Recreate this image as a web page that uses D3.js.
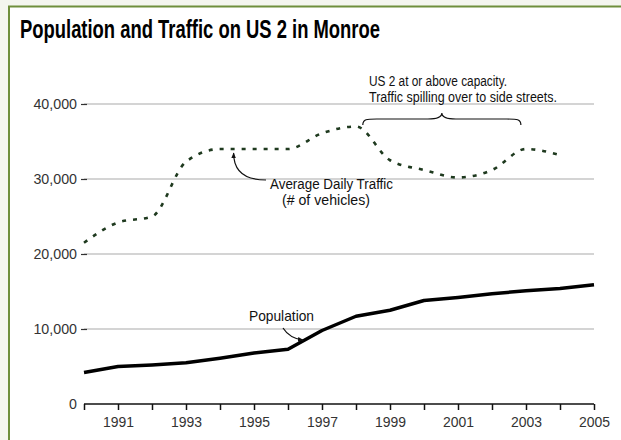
<!DOCTYPE html>
<html>
<head>
<meta charset="utf-8">
<script src="https://cdn.jsdelivr.net/npm/d3@7"></script>
<style>
  html, body { margin: 0; padding: 0; background: #f4f6ef; }
  svg { display: block; }
  text { font-family: "Liberation Sans", Arial, Helvetica, sans-serif; }
</style>
</head>
<body>
<svg id="chart" width="621" height="440"></svg>
<script>
// Years on the x axis
const years = d3.range(1990, 2006);
// Monroe population, 1990–2005
const population = [4200, 5000, 5200, 5500, 6100, 6800, 7300, 9800, 11700, 12500, 13800, 14200, 14700, 15100, 15400, 15900];
// Average daily traffic on US 2 (vehicles), 1990–2004
const trafficYears = d3.range(1990, 2005);
const traffic = [21500, 24200, 25000, 32300, 34000, 34000, 34000, 36100, 37000, 32500, 31200, 30200, 31200, 34000, 33200];
// Axis tick values and labels
const yTicks = [0, 10000, 20000, 30000, 40000];
const xLabelYears = [1991, 1993, 1995, 1997, 1999, 2001, 2003, 2005];

const svg = d3.select("#chart");

// Squeeze a text horizontally to mimic a condensed face
function condense(sel, factor) {
  sel.each(function () {
    const w = this.getComputedTextLength();
    if (w > 0) {
      d3.select(this)
        .attr("textLength", (w * factor).toFixed(1))
        .attr("lengthAdjust", "spacingAndGlyphs");
    }
  });
}
function fitWidth(sel, width) {
  sel.attr("textLength", width).attr("lengthAdjust", "spacingAndGlyphs");
}

// Panel with olive border
svg.append("rect")
  .attr("x", 9).attr("y", 6.5)
  .attr("width", 640).attr("height", 460)
  .attr("fill", "#ffffff")
  .attr("stroke", "#6f8f3c")
  .attr("stroke-width", 2);

svg.append("text")
  .attr("x", 20).attr("y", 38)
  .attr("font-size", 25).attr("font-weight", "bold")
  .attr("fill", "#000")
  .text("Population and Traffic on US 2 in Monroe")
  .call(fitWidth, 360);

const x = d3.scaleLinear().domain([1990, 2005]).range([84, 594]);
const y = d3.scaleLinear().domain([0, 40000]).range([404, 104]);

// Horizontal gridlines
svg.append("g")
  .selectAll("line")
  .data(yTicks.filter(d => d > 0))
  .join("line")
  .attr("x1", x(1990)).attr("x2", x(2005))
  .attr("y1", d => y(d)).attr("y2", d => y(d))
  .attr("stroke", "#a9a9a9").attr("stroke-width", 1);

// Y axis: labels with a short dash
const yAxis = svg.append("g")
  .attr("transform", `translate(${x(1990) + 3},0)`)
  .call(d3.axisLeft(y).tickValues(yTicks).tickSize(6).tickPadding(4)
    .tickFormat(d3.format(",")));
yAxis.select(".domain").remove();
yAxis.selectAll(".tick line").attr("stroke", "#333").attr("stroke-width", 1.2)
  .filter(d => d === 0).remove();
yAxis.selectAll(".tick text")
  .attr("font-size", 15).attr("fill", "#333")
  .attr("font-family", null)
  .call(condense, 0.95);

// X axis: a tick at every year, labels on odd years
const xAxis = svg.append("g")
  .attr("transform", `translate(0,${y(0)})`)
  .call(d3.axisBottom(x).tickValues(years).tickSize(6).tickPadding(6)
    .tickFormat(d => xLabelYears.includes(d) ? String(d) : ""));
xAxis.select(".domain").attr("stroke", "#111").attr("stroke-width", 1.5)
  .attr("d", `M${x(1990)},0H${x(2005)}`);
xAxis.selectAll(".tick line").attr("stroke", "#111").attr("stroke-width", 1.5);
xAxis.selectAll(".tick text")
  .attr("font-size", 15.5).attr("fill", "#333")
  .attr("font-family", null)
  .call(condense, 0.9);

// Traffic: dotted smooth line
const trafficLine = d3.line()
  .x((d, i) => x(trafficYears[i]))
  .y(d => y(d))
  .curve(d3.curveMonotoneX);
svg.append("path")
  .datum(traffic)
  .attr("d", trafficLine)
  .attr("fill", "none")
  .attr("stroke", "#1f3a1f")
  .attr("stroke-width", 2.6)
  .attr("stroke-dasharray", "4,7");

// Population: heavy solid line
const popLine = d3.line()
  .x((d, i) => x(years[i]))
  .y(d => y(d));
svg.append("path")
  .datum(population)
  .attr("d", popLine)
  .attr("fill", "none")
  .attr("stroke", "#000")
  .attr("stroke-width", 3.5)
  .attr("stroke-linejoin", "round");

// Annotation arrowhead
const defs = svg.append("defs");
defs.append("marker")
  .attr("id", "head")
  .attr("viewBox", "0 0 10 10")
  .attr("refX", 9).attr("refY", 5)
  .attr("markerWidth", 5).attr("markerHeight", 5)
  .attr("orient", "auto")
  .append("path").attr("d", "M0,1L10,5L0,9Z").attr("fill", "#111");

// Traffic label with curved pointer
const trafficAnchor = [x(1994.4), y(34000) + 4];
svg.append("path")
  .attr("d", `M266,180 C246,180 ${trafficAnchor[0]},172 ${trafficAnchor[0]},${trafficAnchor[1]}`)
  .attr("fill", "none").attr("stroke", "#111").attr("stroke-width", 1.2)
  .attr("marker-end", "url(#head)");
svg.append("text").attr("x", 270).attr("y", 189)
  .attr("font-size", 14).attr("fill", "#111")
  .text("Average Daily Traffic").call(fitWidth, 123);
svg.append("text").attr("x", 282).attr("y", 205)
  .attr("font-size", 14).attr("fill", "#111")
  .text("(# of vehicles)").call(fitWidth, 88);

// Population label with curved pointer
const popAnchor = [x(1996.45), y(8500)];
svg.append("path")
  .attr("d", `M283,328 C288,336 295,339 ${popAnchor[0]},${popAnchor[1]}`)
  .attr("fill", "none").attr("stroke", "#111").attr("stroke-width", 1.2)
  .attr("marker-end", "url(#head)");
svg.append("text")
  .attr("x", 249).attr("y", 321)
  .attr("font-size", 15).attr("fill", "#111")
  .text("Population").call(fitWidth, 65);

// Capacity note with brace over 1998–2003
const bx0 = x(1998.2), bx1 = x(2002.85), bmid = (bx0 + bx1) / 2;
const bTop = 113, bMid = 119, bEnd = 125;
svg.append("path")
  .attr("d", `M${bx0},${bEnd} C${bx0},${bMid} ${bx0 + 4},${bMid} ${bx0 + 14},${bMid}
              L${bmid - 14},${bMid} C${bmid - 4},${bMid} ${bmid},${bMid - 2} ${bmid},${bTop}
              C${bmid},${bMid - 2} ${bmid + 4},${bMid} ${bmid + 14},${bMid}
              L${bx1 - 14},${bMid} C${bx1 - 4},${bMid} ${bx1},${bMid} ${bx1},${bEnd}`)
  .attr("fill", "none").attr("stroke", "#111").attr("stroke-width", 1.2);
svg.append("text").attr("x", 369).attr("y", 86)
  .attr("font-size", 14).attr("fill", "#111")
  .text("US 2 at or above capacity.").call(fitWidth, 138);
svg.append("text").attr("x", 369).attr("y", 102)
  .attr("font-size", 14).attr("fill", "#111")
  .text("Traffic spilling over to side streets.").call(fitWidth, 188);
</script>
</body>
</html>
